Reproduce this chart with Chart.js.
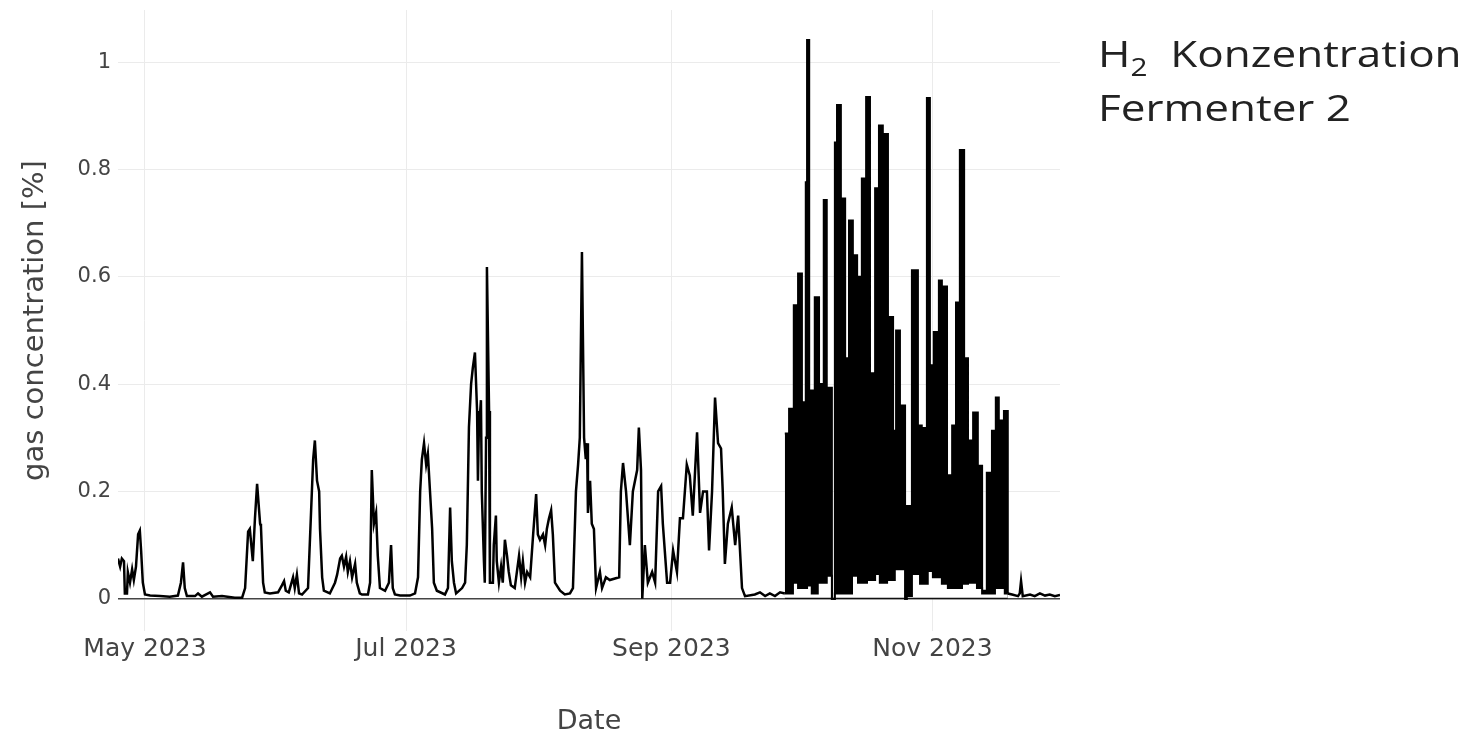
<!DOCTYPE html>
<html>
<head>
    <meta charset="UTF-8">
    <title>H2 Konzentration Fermenter 2</title>
    <script src="https://cdn.jsdelivr.net/npm/chart.js"></script>
    <style>
        body { margin: 0; background: #fff; }
        #wrap { position: relative; width: 1473px; height: 738px; }
        #title {
            position: absolute; left: 1098px; top: 26px;
            font-family: "Open Sans", "Noto Sans", sans-serif;
            font-size: 37px; line-height: 54px; color: #222;
            transform: scaleX(1.19); transform-origin: left top; white-space: nowrap;
        }
        #title sub { font-size: 25px; line-height: 0; vertical-align: -9px; }
    </style>
</head>
<body>
<div id="wrap">
    <canvas id="h2Chart" width="1473" height="738"></canvas>
    <div id="title">H<sub>2</sub>&nbsp; Konzentration<br>Fermenter 2</div>
</div>

<script>
    // x = Tag des Jahres 2023 (1. Jan = 0), y = H2 in %
    const tickDays = [120, 181, 243, 304];
    const tickLabels = ['May 2023', 'Jul 2023', 'Sep 2023', 'Nov 2023'];
    const yTicks = [0, 0.2, 0.4, 0.6, 0.8, 1];

    // ruhiger Teil April - September
    const quietDays = [113.7, 114.2, 114.6, 115.1, 115.3, 115.8, 116.0, 116.5, 117.0, 117.4, 117.9, 118.4, 118.8, 119.1, 119.5,
        120.0, 121.2, 123.5, 125.8, 127.7, 128.4, 128.9, 129.3, 129.8, 131.7, 132.4, 133.3, 135.2, 135.9, 138.0,
        141.0, 142.7, 143.4, 144.1, 144.5, 145.2, 145.7, 146.2, 146.9, 147.1, 147.6, 148.0, 149.2, 151.1, 152.0,
        152.5, 152.9, 153.6, 154.6, 155.0, 155.5, 156.0, 156.7, 158.1, 158.6, 159.3, 159.7, 160.2, 160.7, 160.9,
        161.4, 161.8, 163.2, 164.4, 164.9, 165.6, 166.0, 166.5, 167.0, 167.4, 167.9, 168.4, 169.1, 169.5, 170.2,
        170.7, 172.1, 172.6, 173.0, 173.5, 174.0, 174.4, 174.9, 176.1, 177.0, 177.5, 177.9, 178.4, 179.6, 181.9,
        183.1, 183.8, 184.3, 184.7, 185.2, 185.7, 186.1, 186.6, 187.1, 187.5, 188.2, 190.1, 190.8, 191.3, 191.7,
        192.2, 192.7, 194.1, 194.8, 195.2, 195.7, 196.2, 196.6, 197.1, 197.6, 197.8, 198.0, 198.5, 198.7, 199.2,
        199.4, 199.7, 199.9, 200.4, 200.6, 201.3, 201.5, 202.0, 202.2, 202.7, 203.2, 203.6, 204.1, 204.6, 205.0,
        205.5, 206.4, 207.4, 207.9, 208.3, 208.8, 209.3, 210.0, 210.7, 211.4, 211.8, 212.3, 213.0, 213.5, 213.9,
        214.4, 214.9, 215.3, 215.8, 217.0, 218.1, 219.3, 220.0, 220.7, 221.2, 221.6, 222.1, 222.6, 223.0, 223.3,
        223.5, 224.0, 224.4, 224.9, 225.4, 226.3, 226.8, 227.7, 228.6, 230.8, 231.2, 231.7, 232.4, 233.3, 234.0,
        235.0, 235.4, 235.9, 236.2, 236.8, 237.5, 238.5, 239.2, 239.9, 240.6, 241.0, 242.0, 242.7, 243.4, 244.3,
        245.0, 245.7, 246.6, 247.3, 248.0, 249.0, 249.7, 250.4, 251.3, 251.8, 252.5, 253.2, 253.9, 254.6, 255.0,
        255.5, 256.2, 257.1, 257.9, 258.6, 259.5, 260.2, 262.5, 263.7, 264.9, 266.0, 267.2, 268.4, 269.5];
    const quietH2 = [0.075, 0.06, 0.075, 0.07, 0.01, 0.01, 0.05, 0.03, 0.055, 0.035, 0.06, 0.12, 0.127, 0.09, 0.03,
        0.008, 0.006, 0.005, 0.004, 0.006, 0.03, 0.068, 0.02, 0.005, 0.005, 0.01, 0.004, 0.012, 0.004, 0.005,
        0.002, 0.002, 0.02, 0.125, 0.13, 0.07, 0.15, 0.214, 0.14, 0.135, 0.03, 0.012, 0.01, 0.012, 0.025,
        0.033, 0.015, 0.012, 0.04, 0.02, 0.045, 0.01, 0.008, 0.02, 0.12, 0.26, 0.295, 0.22, 0.2, 0.13,
        0.04, 0.015, 0.01, 0.03, 0.045, 0.075, 0.08, 0.06, 0.078, 0.05, 0.07, 0.04, 0.065, 0.03, 0.01,
        0.008, 0.008, 0.03, 0.24, 0.14, 0.16, 0.08, 0.02, 0.015, 0.03, 0.1, 0.02, 0.008, 0.006, 0.006,
        0.01, 0.04, 0.2, 0.26, 0.29, 0.25, 0.27, 0.2, 0.13, 0.03, 0.015, 0.008, 0.02, 0.17, 0.07,
        0.03, 0.01, 0.02, 0.03, 0.1, 0.32, 0.4, 0.43, 0.459, 0.35, 0.22, 0.31, 0.37, 0.2, 0.07,
        0.03, 0.3, 0.618, 0.35, 0.03, 0.03, 0.1, 0.155, 0.07, 0.03, 0.06, 0.03, 0.11, 0.08, 0.05,
        0.025, 0.02, 0.08, 0.04, 0.07, 0.03, 0.05, 0.04, 0.12, 0.195, 0.12, 0.11, 0.12, 0.1, 0.13,
        0.15, 0.165, 0.12, 0.03, 0.015, 0.008, 0.01, 0.02, 0.2, 0.25, 0.3, 0.646, 0.3, 0.26, 0.29,
        0.16, 0.22, 0.14, 0.13, 0.02, 0.05, 0.02, 0.04, 0.035, 0.04, 0.2, 0.253, 0.2, 0.1, 0.2,
        0.24, 0.319, 0.24, 0.0, 0.1, 0.03, 0.05, 0.03, 0.2, 0.21, 0.14, 0.03, 0.03, 0.09, 0.05,
        0.15, 0.15, 0.25, 0.23, 0.155, 0.31, 0.16, 0.2, 0.2, 0.09, 0.2, 0.375, 0.29, 0.28, 0.2,
        0.065, 0.14, 0.17, 0.1, 0.155, 0.02, 0.005, 0.008, 0.012, 0.005, 0.01, 0.005, 0.012, 0.01];

    // dichter Teil Oktober - November: Stufen der Ober- und Unterkante (Beginn jeder Stufe)
    const denseDays = [269.5, 270.5, 271.6, 272.6, 273.5, 274.4, 274.7, 275.2, 276.5, 277.5, 278.6, 279.3, 280.5, 281.2, 281.7,
        282.6, 283.6, 284.5, 285.4, 286.4, 287.5, 288.5, 289.4, 290.6, 291.5, 292.4, 293.6, 294.8, 295.5, 296.4,
        297.6, 298.0, 299.2, 300.6, 301.5, 302.7, 303.4, 304.3, 305.5, 306.2, 307.4, 308.6, 309.5, 310.4, 311.4,
        312.3, 313.5, 314.6, 315.6, 316.7, 317.9, 318.8, 319.5, 320.7, 321.6];
    const denseHigh = [0.308, 0.354, 0.547, 0.606, 0.366, 0.776, 1.041, 0.388, 0.562, 0.40, 0.743, 0.393, 0.0, 0.85, 0.92,
        0.746, 0.448, 0.705, 0.64, 0.60, 0.783, 0.935, 0.42, 0.765, 0.882, 0.866, 0.525, 0.313, 0.50, 0.36,
        0.0, 0.173, 0.612, 0.323, 0.318, 0.933, 0.435, 0.497, 0.593, 0.582, 0.23, 0.323, 0.552, 0.836, 0.448,
        0.295, 0.347, 0.248, 0.015, 0.235, 0.313, 0.375, 0.332, 0.35, 0.01];
    const denseLowDays = [269.5, 271.4, 272.6, 274.7, 275.8, 277.2, 279.3, 280.5, 281.2, 285.2, 286.6, 288.7, 290.6, 291.7, 293.4,
        295.2, 297.6, 298.0, 299.2, 301.1, 302.9, 304.1, 306.2, 307.6, 310.9, 312.3, 314.4, 315.6, 318.6, 320.9, 321.6];
    const denseLow = [0.01, 0.03, 0.02, 0.025, 0.01, 0.03, 0.043, 0.0, 0.01, 0.043, 0.03, 0.035, 0.046, 0.03, 0.035,
        0.055, 0.0, 0.005, 0.046, 0.028, 0.052, 0.04, 0.028, 0.02, 0.028, 0.03, 0.02, 0.01, 0.02, 0.01, 0.01];

    // Ende Dezember
    const tailDays = [321.6, 322.6, 324.0, 324.4, 324.7, 325.1, 326.8, 327.9, 329.1, 330.3, 331.4, 332.6, 333.8];
    const tailH2 = [0.01, 0.008, 0.005, 0.01, 0.033, 0.005, 0.008, 0.005, 0.01, 0.006, 0.008, 0.005, 0.007];

    const pts = (xs, ys) => xs.map((x, i) => ({ x: x, y: ys[i] }));
    // Stufe: Wert gilt bis zum naechsten Tag der Liste
    function steps(xs, ys) {
        const out = [];
        xs.forEach((x, i) => {
            out.push({ x: x, y: ys[i] });
            if (i < xs.length - 1) out.push({ x: xs[i + 1], y: ys[i] });
        });
        return out;
    }

    Chart.defaults.font.family = '"DejaVu Sans", Verdana, sans-serif';
    Chart.defaults.color = '#444';

    const line = { borderColor: '#000', borderWidth: 2.5, pointRadius: 0, tension: 0, fill: false };

    // Reihenfolge: kleinerer Index wird oben gezeichnet
    // Oberkante schwarz bis 0 gefuellt, Unterkante darueber weiss bis 0
    const ctx = document.getElementById('h2Chart').getContext('2d');
    const h2Chart = new Chart(ctx, {
        type: 'line',
        data: {
            datasets: [
                Object.assign({ label: 'H2', data: pts(quietDays, quietH2) }, line),
                Object.assign({ label: 'H2 Dez', data: pts(tailDays, tailH2) }, line),
                Object.assign({ label: 'H2 min', data: steps(denseLowDays, denseLow) }, line,
                    { borderWidth: 2, fill: { value: 0.002 }, backgroundColor: '#fff' }),
                Object.assign({ label: 'H2 max', data: steps(denseDays, denseHigh) }, line,
                    { borderWidth: 2, fill: 'origin', backgroundColor: '#000' })
            ]
        },
        options: {
            responsive: false,
            animation: false,
            layout: { padding: { left: 0, right: 413, top: 10, bottom: 0 } },
            plugins: { legend: { display: false }, tooltip: { enabled: false } },
            scales: {
                x: {
                    type: 'linear', min: 113.7, max: 333.8,
                    afterBuildTicks: (s) => { s.ticks = tickDays.map(v => ({ value: v })); },
                    afterFit: (s) => { s.height = 107; },
                    ticks: {
                        autoSkip: false, maxRotation: 0, padding: 3,
                        font: { size: 25 }, color: '#444',
                        callback: (v, i) => tickLabels[i]
                    },
                    grid: { color: '#ebebeb', lineWidth: 1, drawTicks: false },
                    border: { display: false },
                    title: { display: true, text: 'Date', font: { size: 27 }, color: '#444', padding: { top: 0, bottom: 0 } }
                },
                y: {
                    min: -0.06, max: 1.097,
                    afterBuildTicks: (s) => { s.ticks = yTicks.map(v => ({ value: v })); },
                    afterFit: (s) => { s.width = 118; s.paddingTop = 0; s.paddingBottom = 0; },
                    ticks: {
                        padding: 7, font: { size: 21 }, color: '#444',
                        callback: (v) => (v === 0 || v === 1) ? String(v) : v.toFixed(1)
                    },
                    grid: {
                        drawTicks: false,
                        color: (c) => (c.tick && c.tick.value === 0) ? '#444' : '#ebebeb',
                        lineWidth: (c) => (c.tick && c.tick.value === 0) ? 1.5 : 1
                    },
                    border: { display: false },
                    title: { display: true, text: 'gas concentration [%]', font: { size: 29 }, color: '#444', padding: { top: 18, bottom: 0 } }
                }
            }
        }
    });
</script>
</body>
</html>
